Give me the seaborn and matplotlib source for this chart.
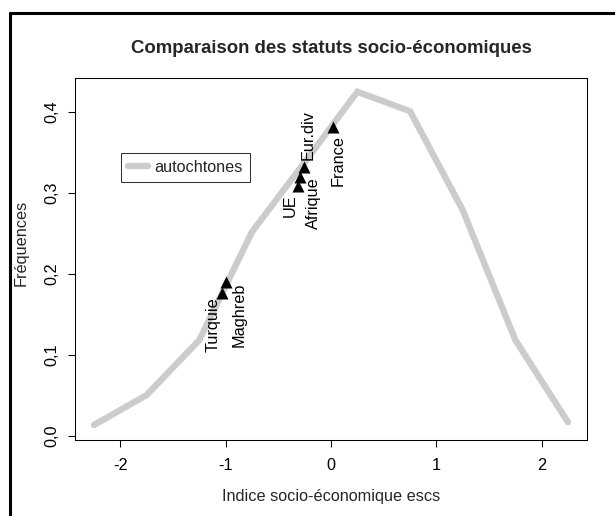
import matplotlib
matplotlib.use("Agg")
import matplotlib.pyplot as plt
from matplotlib.lines import Line2D
import seaborn as sns
import pandas as pd

# ---- data ----
escs_grid = [-2.25, -1.75, -1.25, -0.75, -0.25, 0.25, 0.75, 1.25, 1.75, 2.25]
freq_autochtones = [0.0136, 0.0506, 0.1185, 0.252, 0.338, 0.425, 0.401, 0.279, 0.1185, 0.017]

groups = ["Turquie", "Maghreb", "UE", "Afrique", "Eur.div", "France"]
group_escs = [-1.03, -1.00, -0.31, -0.295, -0.26, 0.016]
group_freq = [0.177, 0.190, 0.309, 0.320, 0.332, 0.382]

x_ticks = [-2, -1, 0, 1, 2]
y_ticks = [0.0, 0.1, 0.2, 0.3, 0.4]
y_tick_labels = ["0,0", "0,1", "0,2", "0,3", "0,4"]

title = "Comparaison des statuts socio-économiques"
xlabel = "Indice socio-économique escs"
ylabel = "Fréquences"
legend_label = "autochtones"

# ---- style ----
sns.set_theme(style="ticks")
plt.rcParams["font.family"] = ["Liberation Sans", "DejaVu Sans"]

W, H = 615, 516
fig = plt.figure(figsize=(W / 100, H / 100), dpi=100)
ax = fig.add_axes([75 / W, 1 - 440 / H, 512 / W, 362 / H])

df_line = pd.DataFrame({"escs": escs_grid, "freq": freq_autochtones})
df_pts = pd.DataFrame({"escs": group_escs, "freq": group_freq, "groupe": groups})

sns.lineplot(data=df_line, x="escs", y="freq", ax=ax, color="#cccccc",
             linewidth=4.6, solid_capstyle="round", solid_joinstyle="miter",
             label=legend_label, sort=False)
sns.scatterplot(data=df_pts, x="escs", y="freq", ax=ax, marker="^",
                color="black", s=75, linewidth=0, legend=False, zorder=3)

fs = 11.7
# offsets in points, (dx, dy, va)
offsets = {
    "Turquie": (-6.5, -3.6, "top"),
    "Maghreb": (9.4, -0.7, "top"),
    "UE": (-6.1, -6.5, "top"),
    "Afrique": (9.4, 0.0, "top"),
    "Eur.div": (2.9, 5.0, "bottom"),
    "France": (3.6, -5.8, "top"),
}
for g, gx, gy in zip(groups, group_escs, group_freq):
    dx, dy, va = offsets[g]
    ax.annotate(g, (gx, gy), xytext=(dx, dy), textcoords="offset points",
                rotation=90, ha="center", va=va, fontsize=fs, color="black")

ax.set_xlim(-2.43, 2.43)
ax.set_ylim(-0.0049, 0.442)
ax.set_xticks(x_ticks)
ax.set_xticklabels([str(t) for t in x_ticks])
ax.set_yticks(y_ticks)
ax.set_yticklabels(y_tick_labels, rotation=90, va="center")
ax.set_xlabel("")
ax.set_ylabel("")
ax.tick_params(axis="both", direction="out", length=5, width=0.75,
               labelsize=fs, colors="black")
ax.tick_params(axis="x", pad=8)
ax.tick_params(axis="y", pad=6)
for s in ax.spines.values():
    s.set_visible(True)
    s.set_linewidth(0.75)
    s.set_color("black")

leg = ax.legend(loc="upper left", bbox_to_anchor=(0.089, 0.794),
                borderaxespad=0, frameon=True, fancybox=False,
                edgecolor="black", fontsize=fs, handlelength=1.25,
                handletextpad=0.4, borderpad=0.45)
leg.get_frame().set_linewidth(0.75)

fig.text(331 / W, 1 - 53 / H, title, ha="center", va="baseline",
         fontsize=13.4, fontweight="bold")
fig.text(331 / W, 1 - 497 / H, xlabel, ha="center", va="center", fontsize=fs)
fig.text(21 / W, 1 - 243 / H, ylabel, ha="center", va="center",
         rotation=90, fontsize=fs)

# outer frame (left and top)
fig.add_artist(Line2D([10 / W, 10 / W], [0, 1 - 13 / H], color="black",
                      lw=2.2, transform=fig.transFigure))
fig.add_artist(Line2D([10 / W, 1], [1 - 13 / H, 1 - 13 / H], color="black",
                      lw=2.2, transform=fig.transFigure))

fig.savefig("out.png", dpi=100)
